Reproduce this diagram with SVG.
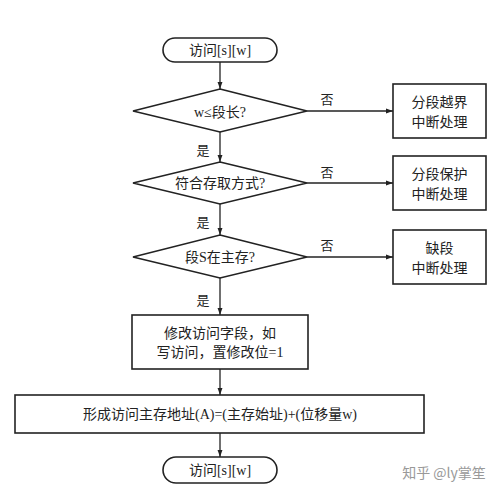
<svg xmlns="http://www.w3.org/2000/svg" width="501" height="495" viewBox="0 0 501 495">
<defs>
<marker id="ah" viewBox="0 0 10 10" refX="10" refY="5" markerWidth="7" markerHeight="7" orient="auto" markerUnits="userSpaceOnUse">
<path d="M0,1.5 L10,5 L0,8.5 Z" fill="#222"/>
</marker>
<style>
.s{fill:#fff;stroke:#222;stroke-width:1.6}
.t{font-family:"Liberation Serif","Noto Sans CJK SC",serif;font-size:14px;fill:#222;text-anchor:middle;dominant-baseline:central}
.l{font-family:"Liberation Serif","Noto Sans CJK SC",serif;font-size:13px;fill:#222;text-anchor:middle;dominant-baseline:central}
.c{fill:none;stroke:#222;stroke-width:1.3;marker-end:url(#ah)}
</style>
</defs>
<rect width="501" height="495" fill="#fff"/>
<g id="connectors">
<line class="c" x1="220" y1="62" x2="220" y2="89"/>
<line class="c" x1="220" y1="132" x2="220" y2="162"/>
<line class="c" x1="220" y1="204" x2="220" y2="235"/>
<line class="c" x1="220" y1="278" x2="220" y2="315"/>
<line class="c" x1="220" y1="369" x2="220" y2="395"/>
<line class="c" x1="220" y1="433" x2="220" y2="457"/>
<line class="c" x1="307" y1="111" x2="393" y2="111"/>
<line class="c" x1="307" y1="183" x2="393" y2="183"/>
<line class="c" x1="307" y1="257" x2="393" y2="257"/>
<text class="l" x="327" y="99">否</text>
<text class="l" x="327" y="172">否</text>
<text class="l" x="327" y="245">否</text>
<text class="l" x="203" y="150">是</text>
<text class="l" x="203" y="222">是</text>
<text class="l" x="203" y="300">是</text>
</g>
<g id="start">
<rect class="s" x="163" y="38" width="114" height="24" rx="12"/>
<text class="t" x="220" y="50">访问[s][w]</text>
</g>
<g id="d1">
<polygon class="s" points="220,89 307,111 220,132 133,111"/>
<text class="t" x="220" y="112">w≤段长?</text>
</g>
<g id="d2">
<polygon class="s" points="220,162 307,183 220,204 133,183"/>
<text class="t" x="220" y="183">符合存取方式?</text>
</g>
<g id="d3">
<polygon class="s" points="220,235 307,257 220,278 133,257"/>
<text class="t" x="220" y="257">段S在主存?</text>
</g>
<g id="r1">
<rect class="s" x="393" y="84" width="93" height="54"/>
<text class="t" x="439.5" y="102">分段越界</text>
<text class="t" x="439.5" y="122">中断处理</text>
</g>
<g id="r2">
<rect class="s" x="393" y="156" width="93" height="54"/>
<text class="t" x="439.5" y="174">分段保护</text>
<text class="t" x="439.5" y="194">中断处理</text>
</g>
<g id="r3">
<rect class="s" x="393" y="230" width="93" height="54"/>
<text class="t" x="439.5" y="248">缺段</text>
<text class="t" x="439.5" y="268">中断处理</text>
</g>
<g id="modify">
<rect class="s" x="132" y="315" width="176" height="54"/>
<text class="t" x="220" y="333">修改访问字段，如</text>
<text class="t" x="220" y="352">写访问，置修改位=1</text>
</g>
<g id="addr">
<rect class="s" x="15" y="395" width="409" height="38"/>
<text class="t" x="220" y="414">形成访问主存地址(A)=(主存始址)+(位移量w)</text>
</g>
<g id="end">
<rect class="s" x="163" y="457" width="114" height="26" rx="13"/>
<text class="t" x="220" y="470">访问[s][w]</text>
</g>
<text x="444" y="472" font-family="'Noto Sans CJK SC',sans-serif" font-size="14" fill="#999" text-anchor="middle" dominant-baseline="central">知乎 @ly掌笙</text>
</svg>
